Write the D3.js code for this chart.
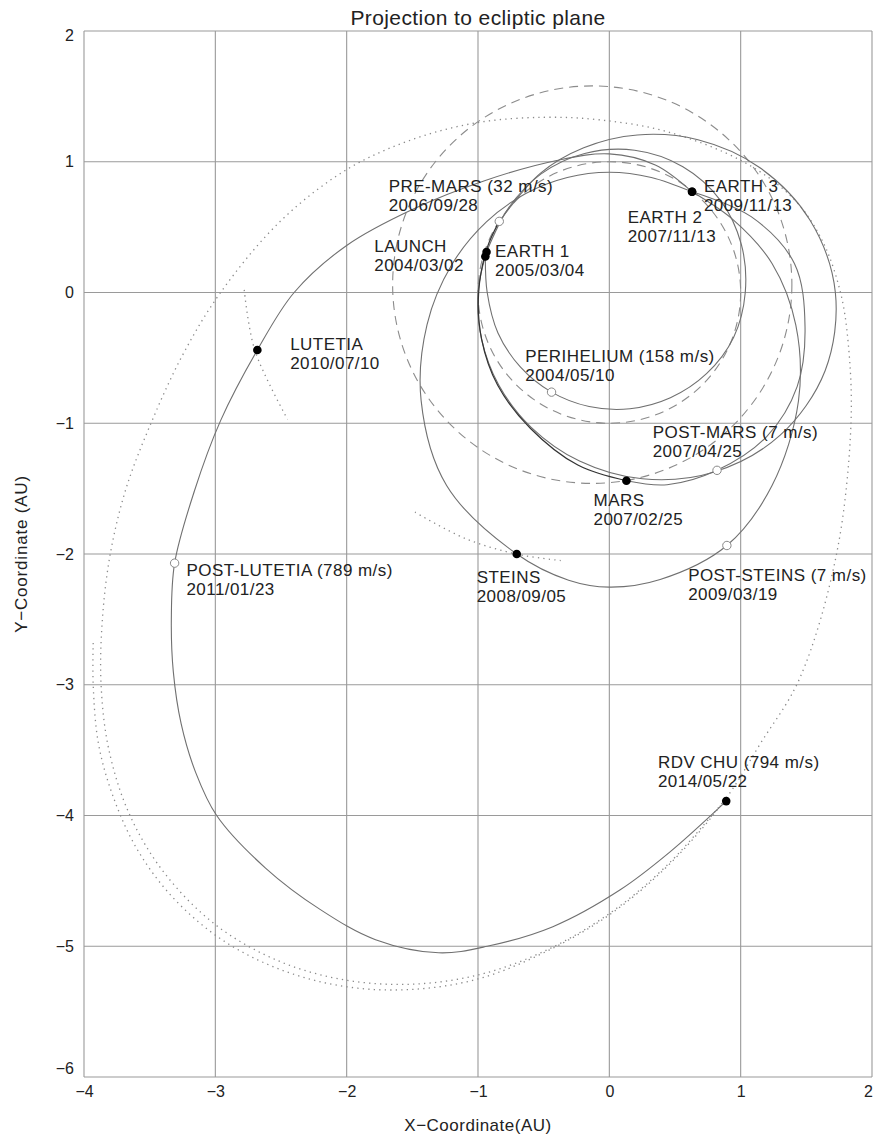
<!DOCTYPE html>
<html>
<head>
<meta charset="utf-8">
<script src="https://cdn.jsdelivr.net/npm/d3@7"></script>
<style>
  html, body { margin: 0; padding: 0; background: #fff; }
  svg text { font-family: "Liberation Sans", Arial, Helvetica, sans-serif; fill: #222; }
</style>
</head>
<body>
<svg id="chart" width="873" height="1137"></svg>
<script>
// ---- axis ticks ----
const xTicks = [-4, -3, -2, -1, 0, 1, 2];
const yTicks = [-6, -5, -4, -3, -2, -1, 0, 1, 2];

// ---- planetary orbits (AU): centre and semi-axes ----
const earthOrbit = { cx: 0.0, cy: 0.0, rx: 1.0, ry: 1.0 };
const marsOrbit  = { cx: -0.13, cy: 0.06, rx: 1.52, ry: 1.52 };

// ---- spacecraft trajectory legs, [x, y] in AU ----
const legLaunch = [[-0.944,0.275],[-0.930,0.0],[-0.848,-0.309],[-0.678,-0.569],[-0.44,-0.762],[-0.154,-0.872],[0.157,-0.889],[0.465,-0.805],[0.740,-0.621],[0.946,-0.344],[1.035,0.0],[1.005,0.368],[0.846,0.705],[0.56,0.962],[0.193,1.088],[-0.188,1.063],[-0.522,0.905],[-0.768,0.645],[-0.935,0.31]];
const legEarth1 = [[-0.935,0.31],[-1.0,0.0],[-0.973,-0.354],[-0.842,-0.707],[-0.595,-1.031],[-0.227,-1.289],[0.251,-1.425],[0.793,-1.374],[1.301,-1.091],[1.643,-0.598],[1.721,0.0],[1.526,0.556],[1.141,0.958],[0.675,1.168],[0.213,1.205],[-0.195,1.107],[-0.526,0.911],[-0.838,0.544]];
const legPreMars = [[-0.838,0.544],[-0.931,0.339],[-0.995,0.0],[-0.972,-0.36],[-0.85,-0.71],[-0.60,-1.04],[-0.24,-1.32],[0.13,-1.44]];
const legMars = [[0.13,-1.44],[0.44,-1.47],[0.82,-1.36],[1.20,-1.10],[1.43,-0.72],[1.49,-0.26],[1.41,0.22],[1.08,0.58],[0.63,0.77]];
const legEarth2 = [[0.63,0.77],[0.32,0.88],[0.0,0.92],[-0.32,0.88],[-0.636,0.757],[-0.936,0.540],[-1.200,0.212],[-1.388,-0.245],[-1.433,-0.827],[-1.239,-1.476],[-0.705,-2.0],[-0.31,-2.2],[0.0,-2.253],[0.387,-2.195],[0.895,-1.935],[1.239,-1.476],[1.44,-0.83],[1.42,-0.25],[1.24,0.22],[0.95,0.55],[0.63,0.77]];
const legEarth3 = [[0.63,0.77],[0.35,0.975],[0.0,1.06],[-0.40,1.01],[-0.95,0.855],[-1.50,0.635],[-2.0,0.36],[-2.40,0.0],[-2.68,-0.44],[-2.96,-0.98],[-3.16,-1.52],[-3.31,-2.07]];
const legCruise = [[-3.31,-2.07],[-3.335,-2.5],[-3.32,-2.9],[-3.26,-3.3],[-3.15,-3.67],[-2.99,-4.0],[-2.62,-4.40],[-2.20,-4.72],[-1.78,-4.95],[-1.30,-5.05],[-0.93,-5.0],[-0.43,-4.85],[0.08,-4.57],[0.46,-4.28],[0.89,-3.89]];

// ---- target body orbit arcs (dotted) ----
const cometTrack = [[-3.93,-2.68],[-3.93,-3.0],[-3.89,-3.45],[-3.78,-3.85],[-3.60,-4.25],[-3.33,-4.62],[-2.95,-4.95],[-2.50,-5.18],[-2.0,-5.31],[-1.5,-5.33],[-1.0,-5.25],[-0.5,-5.05],[0.0,-4.76],[0.45,-4.38],[0.88,-3.88],[1.15,-3.45],[1.45,-2.95],[1.73,-2.0],[1.84,-1.0],[1.82,-0.4],[1.76,0.0],[1.62,0.40],[1.40,0.72],[1.02,1.0],[0.44,1.23],[-0.07,1.32],[-0.5,1.34],[-1.0,1.30],[-1.5,1.17],[-2.0,0.94],[-2.5,0.55],[-2.96,0.0],[-3.25,-0.48],[-3.49,-1.0],[-3.68,-1.5],[-3.80,-2.0],[-3.86,-2.5],[-3.87,-3.0],[-3.81,-3.5],[-3.65,-4.0],[-3.38,-4.45],[-2.98,-4.85],[-2.50,-5.12],[-2.0,-5.26],[-1.5,-5.29],[-1.0,-5.22],[-0.5,-5.04],[0.0,-4.75],[0.45,-4.37],[0.88,-3.88]];
const lutetiaArc = [[-2.78,0.02],[-2.70,-0.44],[-2.45,-0.97]];
const steinsArc  = [[-1.48,-1.68],[-1.10,-1.88],[-0.71,-2.0],[-0.37,-2.05]];

// ---- events ----
const eventNames = ["LAUNCH","EARTH 1","PERIHELIUM (158 m/s)","PRE-MARS (32 m/s)","MARS","POST-MARS (7 m/s)","EARTH 2","STEINS","POST-STEINS (7 m/s)","EARTH 3","LUTETIA","POST-LUTETIA (789 m/s)","RDV CHU (794 m/s)"];
const eventDates = ["2004/03/02","2005/03/04","2004/05/10","2006/09/28","2007/02/25","2007/04/25","2007/11/13","2008/09/05","2009/03/19","2009/11/13","2010/07/10","2011/01/23","2014/05/22"];
const eventX = [-0.944,-0.935,-0.44,-0.838,0.13,0.82,0.63,-0.705,0.895,0.63,-2.68,-3.31,0.89];
const eventY = [0.275,0.31,-0.762,0.544,-1.44,-1.36,0.77,-2.0,-1.935,0.77,-0.44,-2.07,-3.89];
const eventKind = ["flyby","flyby","dsm","dsm","flyby","dsm","flyby","flyby","dsm","flyby","flyby","dsm","flyby"];
// label anchor in AU (left end of the first text line's baseline)
const labelX = [-1.79,-0.87,-0.64,-1.68,-0.12,0.33,0.14,-1.01,0.60,0.72,-2.43,-3.22,0.37];
const labelY = [0.31,0.27,-0.53,0.77,-1.63,-1.11,0.53,-2.22,-2.21,0.77,-0.44,-2.17,-3.64];

const svg = d3.select("#chart");
const x = d3.scaleLinear().domain([-4, 2]).range([84, 872]);
const y = d3.scaleLinear().domain([-6, 2]).range([1077, 31]);

// grid
const grid = svg.append("g").attr("stroke", "#9a9a9a").attr("stroke-width", 1.1);
grid.selectAll(".gx").data(xTicks).join("line")
  .attr("x1", d => x(d)).attr("x2", d => x(d)).attr("y1", y(2)).attr("y2", y(-6));
grid.selectAll(".gy").data(yTicks).join("line")
  .attr("y1", d => y(d)).attr("y2", d => y(d)).attr("x1", x(-4)).attr("x2", x(2));

// axes tick labels (end labels kept inside the frame's span)
const fmt = d => d < 0 ? "\u2212" + Math.abs(d) : String(d);
svg.append("g").call(d3.axisLeft(y).tickValues(yTicks).tickSize(0).tickPadding(10).tickFormat(fmt))
  .attr("transform", `translate(${x(-4)},0)`)
  .call(g => g.select(".domain").remove())
  .call(g => g.selectAll("text").attr("font-size", 16).attr("fill", "#222").attr("font-family", "Liberation Sans, Arial"))
  .call(g => g.selectAll(".tick").filter(d => d === 2).select("text").attr("dy", "0.6em"))
  .call(g => g.selectAll(".tick").filter(d => d === -6).select("text").attr("dy", "-0.2em"));
svg.append("g").call(d3.axisBottom(x).tickValues(xTicks).tickSize(0).tickPadding(9).tickFormat(fmt))
  .attr("transform", `translate(0,${y(-6)})`)
  .call(g => g.select(".domain").remove())
  .call(g => g.selectAll("text").attr("font-size", 16).attr("fill", "#222").attr("font-family", "Liberation Sans Narrow, Liberation Sans, Arial"))
  .call(g => g.selectAll(".tick").filter(d => d === 2).select("text").attr("dx", -4));

// titles
svg.append("text").attr("x", 478).attr("y", 25).attr("text-anchor", "middle").attr("font-size", 21)
  .attr("letter-spacing", 0.4).text("Projection to ecliptic plane");
svg.append("text").attr("x", 478).attr("y", 1131).attr("text-anchor", "middle").attr("font-size", 17)
  .attr("letter-spacing", 0.5)
  .attr("font-family", "Liberation Sans Narrow, Liberation Sans, Arial").text("X\u2212Coordinate(AU)");
svg.append("text").attr("transform", `translate(27,${y(-2)}) rotate(-90)`).attr("text-anchor", "middle").attr("font-size", 17)
  .attr("letter-spacing", 0.8)
  .attr("font-family", "Liberation Sans Narrow, Liberation Sans, Arial").text("Y\u2212Coordinate (AU)");

const plot = svg.append("g");
svg.append("clipPath").attr("id", "clipPlot").append("rect")
  .attr("x", x(-4)).attr("y", y(2)).attr("width", x(2) - x(-4)).attr("height", y(-6) - y(2));
plot.attr("clip-path", "url(#clipPlot)");

// planetary orbits (dashed)
[earthOrbit, marsOrbit].forEach(o => {
  plot.append("ellipse")
    .attr("cx", x(o.cx)).attr("cy", y(o.cy))
    .attr("rx", x(o.cx + o.rx) - x(o.cx)).attr("ry", y(o.cy) - y(o.cy + o.ry))
    .attr("fill", "none").attr("stroke", "#8c8c8c").attr("stroke-width", 1.1)
    .attr("stroke-dasharray", "9,6");
});

const line = d3.line().x(d => x(d[0])).y(d => y(d[1])).curve(d3.curveCatmullRom.alpha(0.5));

// dotted target orbits
[cometTrack, lutetiaArc, steinsArc].forEach(arc => {
  plot.append("path").attr("d", line(arc)).attr("fill", "none")
    .attr("stroke", "#8a8a8a").attr("stroke-width", 1.3).attr("stroke-dasharray", "1.3,4.2");
});

// trajectory legs; the outbound cruise is drawn as one smooth arc through the post-Lutetia burn
const outbound = legEarth3.concat(legCruise.slice(1));
[legLaunch, legEarth1, legMars, legEarth2, outbound].forEach(arc => {
  plot.append("path").attr("d", line(arc)).attr("fill", "none")
    .attr("stroke", "#707070").attr("stroke-width", 1.1);
});
plot.append("path").attr("d", line(legPreMars)).attr("fill", "none")
  .attr("stroke", "#333").attr("stroke-width", 1.2);

// event markers
const ev = eventNames.map((n, i) => ({ name: n, date: eventDates[i], x: eventX[i], y: eventY[i], kind: eventKind[i], lx: labelX[i], ly: labelY[i] }));
plot.selectAll(".dsm").data(ev.filter(d => d.kind === "dsm")).join("circle")
  .attr("cx", d => x(d.x)).attr("cy", d => y(d.y)).attr("r", 4.2)
  .attr("fill", "#fff").attr("stroke", "#888").attr("stroke-width", 1);
plot.selectAll(".fly").data(ev.filter(d => d.kind === "flyby")).join("circle")
  .attr("cx", d => x(d.x)).attr("cy", d => y(d.y)).attr("r", 4.3)
  .attr("fill", "#000");

// labels
const lab = svg.append("g").attr("font-size", 17).attr("letter-spacing", 0.45);
ev.forEach(d => {
  const t = lab.append("text").attr("x", x(d.lx)).attr("y", y(d.ly));
  t.append("tspan").attr("x", x(d.lx)).text(d.name);
  t.append("tspan").attr("x", x(d.lx)).attr("dy", 19).text(d.date);
});
</script>
</body>
</html>
